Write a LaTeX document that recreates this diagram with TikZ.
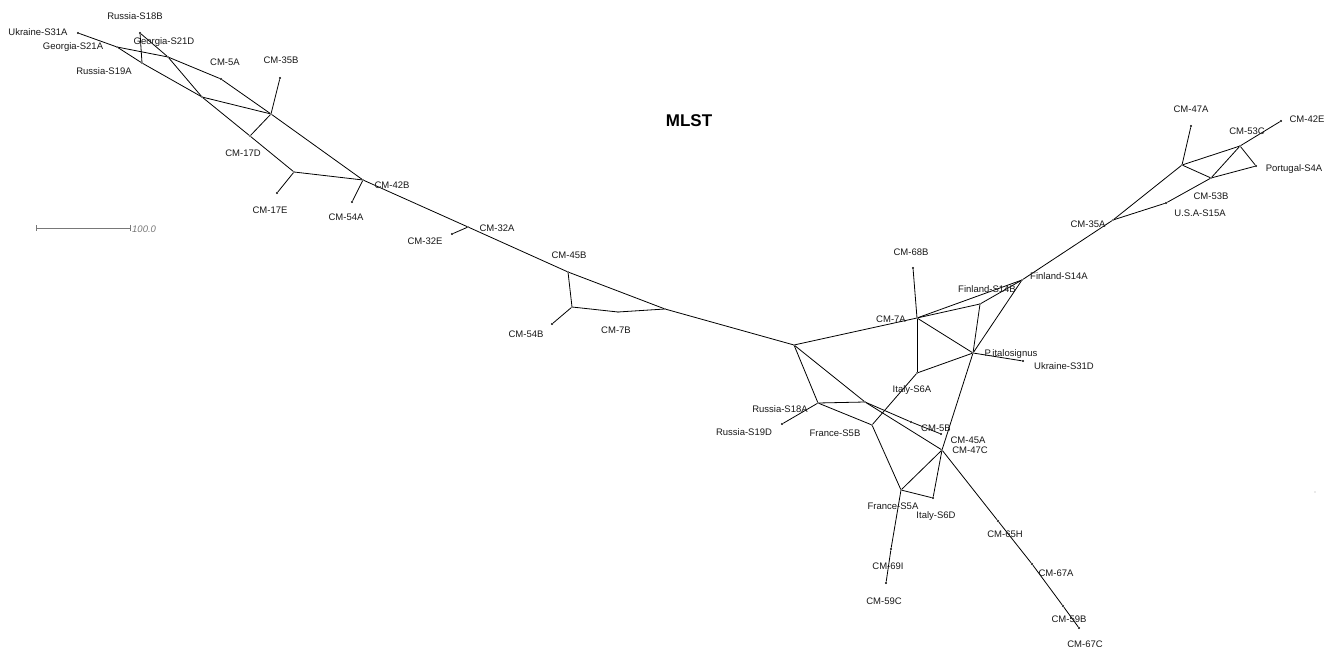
\documentclass[tikz,border=0pt]{standalone}
\usepackage{fontspec}
\setmainfont{Liberation Sans}
\definecolor{labc}{RGB}{25,25,25}
\definecolor{sbc}{RGB}{120,120,120}
\begin{document}
\begin{tikzpicture}[x=1pt,y=-1pt,
  pt/.style={circle,fill=black,inner sep=0pt,minimum size=2.4pt},
  jn/.style={circle,fill=black,inner sep=0pt,minimum size=1.8pt},
  lab/.style={font=\fontsize{9.5}{10}\selectfont,text=labc,inner sep=0pt},
  ln/.style={draw=black,line width=0.8pt}]
\useasboundingbox (0,0) rectangle (1336,647);
\fill[white] (0,0) rectangle (1336,647);

% title and scale bar
\node[font=\bfseries\fontsize{17}{18}\selectfont] (title) at (689,121) {MLST};
\coordinate (sb1) at (36,228);
\coordinate (sb2) at (130,228);
\draw[sbc,line width=0.8pt] (sb1) -- (sb2);
\draw[sbc,line width=0.8pt] ([yshift=-3pt]sb1) -- ([yshift=3pt]sb1);
\draw[sbc,line width=0.8pt] ([yshift=-3pt]sb2) -- ([yshift=3pt]sb2);
\node[font=\itshape\fontsize{9.5}{10}\selectfont,text=sbc,anchor=west,inner sep=0pt] (sbl) at (132,229) {100.0};
\node[circle,fill=black!35,inner sep=0pt,minimum size=1.2pt] (stray) at (1315,492) {};

% ---------- left cluster ----------
\node[pt] (u31a) at (78,33) {};
\node[jn] (g21a) at (117,47) {};
\node[pt] (r18b) at (140,33) {};
\node[jn] (r19a) at (142,63) {};
\node[jn] (g21d) at (168,57) {};
\node[pt] (cm5a) at (221,79) {};
\node[jn] (j1) at (202,97) {};
\node[jn] (j2) at (271,114) {};
\node[pt] (cm35b) at (280,78) {};
\node[jn] (cm17d) at (250,136) {};
\node[jn] (j3) at (294,172) {};
\node[pt] (cm17e) at (277,193) {};
\node[jn] (cm42b) at (363,180) {};
\node[pt] (cm54a) at (352,202) {};
\node[jn] (cm32a) at (468,227) {};
\node[pt] (cm32e) at (452,234) {};
\node[jn] (cm45b) at (568,272) {};
\node[jn] (j4) at (572,307) {};
\node[pt] (cm54b) at (552,324) {};
\node[jn] (cm7b) at (618,312) {};
\node[jn] (j5) at (665,309) {};
\node[jn] (A) at (794,345) {};

\draw[ln] (u31a) -- (g21a);
\draw[ln] (g21a) -- (g21d) -- (cm5a) -- (j2);
\draw[ln] (g21a) -- (r19a) -- (j1);
\draw[ln] (r18b) -- (r19a);
\draw[ln] (r18b) -- (g21d) -- (j1);
\draw[ln] (j1) -- (j2);
\draw[ln] (j1) -- (cm17d) -- (j3);
\draw[ln] (j2) -- (cm17d);
\draw[ln] (j2) -- (cm35b);
\draw[ln] (j2) -- (cm42b);
\draw[ln] (j3) -- (cm42b);
\draw[ln] (j3) -- (cm17e);
\draw[ln] (cm42b) -- (cm54a);
\draw[ln] (cm42b) -- (cm32a);
\draw[ln] (cm32a) -- (cm32e);
\draw[ln] (cm32a) -- (cm45b);
\draw[ln] (cm45b) -- (j5);
\draw[ln] (cm45b) -- (j4);
\draw[ln] (j4) -- (cm54b);
\draw[ln] (j4) -- (cm7b) -- (j5);
\draw[ln] (j5) -- (A);

% ---------- right cluster ----------
\node[jn] (cm7a) at (917,318) {};
\node[pt] (cm68b) at (913,268) {};
\node[jn] (f14a) at (1022,280) {};
\node[jn] (f14b) at (980,304) {};
\node[jn] (pit) at (973,353) {};
\node[pt] (u31d) at (1023,361) {};
\node[jn] (i6a) at (917,373) {};
\node[jn] (r18a) at (818,403) {};
\node[pt] (r19d) at (782,424) {};
\node[jn] (j6) at (865,402) {};
\node[jn] (f5b) at (872,425) {};
\node[pt] (cm5bx) at (911,422) {};
\node[pt] (cm5b) at (941,434) {};
\node[jn] (j7) at (942,450) {};
\node[jn] (f5a) at (901,490) {};
\node[pt] (i6d) at (933,498) {};
\node[pt] (cm69i) at (891,549) {};
\node[pt] (cm59c) at (886,583) {};
\node[pt] (cm65h) at (998,521) {};
\node[pt] (cm67a) at (1032,564) {};
\node[pt] (cm59b) at (1063,606) {};
\node[pt] (cm67c) at (1079,628) {};
\node[jn] (cm35a) at (1113,220) {};
\node[jn] (j8) at (1182,165) {};
\node[pt] (cm47a) at (1191,126) {};
\node[jn] (cm53c) at (1240,146) {};
\node[pt] (cm42e) at (1281,121) {};
\node[pt] (pt4a) at (1256,166) {};
\node[jn] (cm53b) at (1211,178) {};
\node[pt] (usa) at (1166,203) {};

\draw[ln] (A) -- (cm7a);
\draw[ln] (cm7a) -- (cm68b);
\draw[ln] (cm7a) -- (f14a);
\draw[ln] (cm7a) -- (f14b) -- (f14a);
\draw[ln] (cm7a) -- (pit);
\draw[ln] (cm7a) -- (i6a);
\draw[ln] (f14b) -- (pit);
\draw[ln] (f14a) -- (pit);
\draw[ln] (pit) -- (j7);
\draw[ln] (pit) -- (u31d);
\draw[ln] (pit) -- (i6a);
\draw[ln] (i6a) -- (f5b);
\draw[ln] (A) -- (r18a);
\draw[ln] (A) -- (j6);
\draw[ln] (r18a) -- (j6);
\draw[ln] (r18a) -- (r19d);
\draw[ln] (r18a) -- (f5b);
\draw[ln] (j6) -- (cm5bx) -- (cm5b);
\draw[ln] (j6) -- (j7);
\draw[ln] (f5b) -- (f5a);
\draw[ln] (j7) -- (f5a);
\draw[ln] (j7) -- (i6d);
\draw[ln] (f5a) -- (i6d);
\draw[ln] (f5a) -- (cm69i) -- (cm59c);
\draw[ln] (j7) -- (cm65h) -- (cm67a) -- (cm59b) -- (cm67c);
\draw[ln] (f14a) -- (cm35a);
\draw[ln] (cm35a) -- (j8);
\draw[ln] (cm35a) -- (usa) -- (cm53b);
\draw[ln] (j8) -- (cm47a);
\draw[ln] (j8) -- (cm53c);
\draw[ln] (j8) -- (cm53b);
\draw[ln] (cm53b) -- (cm53c);
\draw[ln] (cm53b) -- (pt4a);
\draw[ln] (cm53c) -- (pt4a);
\draw[ln] (cm53c) -- (cm42e);

% ---------- labels ----------
\node[lab] (l-u31a) at (38,32) {Ukraine-S31A};
\node[lab] (l-r18b) at (135,16) {Russia-S18B};
\node[lab] (l-g21a) at (73,47) {Georgia-S21A};
\node[lab] (l-g21d) at (164,42) {Georgia-S21D};
\node[lab] (l-r19a) at (104,71) {Russia-S19A};
\node[lab] (l-cm5a) at (225,62) {CM-5A};
\node[lab] (l-cm35b) at (281,60) {CM-35B};
\node[lab] (l-cm17d) at (243,153) {CM-17D};
\node[lab] (l-cm17e) at (270,210) {CM-17E};
\node[lab] (l-cm54a) at (346,217) {CM-54A};
\node[lab] (l-cm42b) at (392,185) {CM-42B};
\node[lab] (l-cm32a) at (497,228) {CM-32A};
\node[lab] (l-cm32e) at (425,241) {CM-32E};
\node[lab] (l-cm45b) at (569,255) {CM-45B};
\node[lab] (l-cm54b) at (526,334) {CM-54B};
\node[lab] (l-cm7b) at (616,330) {CM-7B};
\node[lab] (l-cm68b) at (911,252) {CM-68B};
\node[lab] (l-f14a) at (1059,276) {Finland-S14A};
\node[lab] (l-f14b) at (987,289) {Finland-S14B};
\node[lab] (l-cm7a) at (891,319) {CM-7A};
\node[lab] (l-pit) at (1011,354) {P.italosignus};
\node[lab] (l-u31d) at (1064,366) {Ukraine-S31D};
\node[lab] (l-i6a) at (912,390) {Italy-S6A};
\node[lab] (l-r18a) at (780,409) {Russia-S18A};
\node[lab] (l-r19d) at (744,432) {Russia-S19D};
\node[lab] (l-f5b) at (835,433) {France-S5B};
\node[lab] (l-cm5b) at (936,428) {CM-5B};
\node[lab] (l-cm45a) at (968,440) {CM-45A};
\node[lab] (l-cm47c) at (970,450) {CM-47C};
\node[lab] (l-f5a) at (893,506) {France-S5A};
\node[lab] (l-i6d) at (936,516) {Italy-S6D};
\node[lab] (l-cm65h) at (1005,534) {CM-65H};
\node[lab] (l-cm69i) at (888,566) {CM-69I};
\node[lab] (l-cm59c) at (884,601) {CM-59C};
\node[lab] (l-cm67a) at (1056,573) {CM-67A};
\node[lab] (l-cm59b) at (1069,619) {CM-59B};
\node[lab] (l-cm67c) at (1085,644) {CM-67C};
\node[lab] (l-cm47a) at (1191,109) {CM-47A};
\node[lab] (l-cm42e) at (1307,119) {CM-42E};
\node[lab] (l-cm53c) at (1247,131) {CM-53C};
\node[lab] (l-pt4a) at (1294,169) {Portugal-S4A};
\node[lab] (l-cm53b) at (1211,196) {CM-53B};
\node[lab] (l-usa) at (1200,213) {U.S.A-S15A};
\node[lab] (l-cm35a) at (1088,224) {CM-35A};
\end{tikzpicture}
\end{document}
